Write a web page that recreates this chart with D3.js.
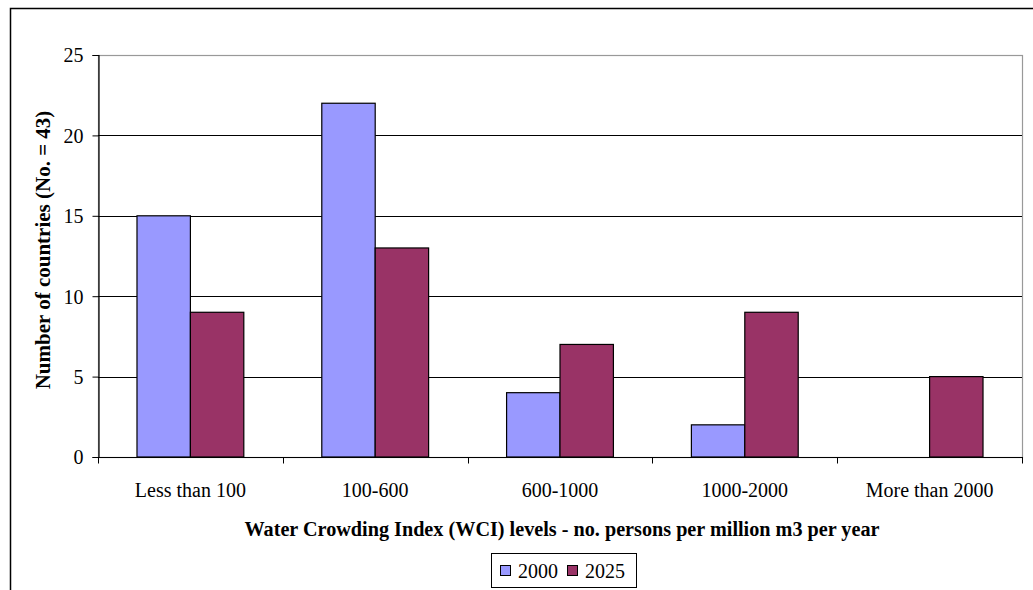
<!DOCTYPE html>
<html>
<head>
<meta charset="utf-8">
<script src="https://cdn.jsdelivr.net/npm/d3@7"></script>
<style>
  html, body { margin: 0; padding: 0; background: #fff; }
  svg text { font-family: "Liberation Serif", "DejaVu Serif", serif; }
</style>
</head>
<body>
<svg id="chart" width="1033" height="590"></svg>
<script>
// Water Crowding Index levels, number of countries per class
const categories = ["Less than 100", "100-600", "600-1000", "1000-2000", "More than 2000"];
const seriesNames = ["2000", "2025"];
const values2000 = [15, 22, 4, 2, 0];
const values2025 = [9, 13, 7, 9, 5];
const yTicks = [0, 5, 10, 15, 20, 25];
const colors = ["#9999FF", "#993366"];

const FONT = "Liberation Serif";
const svg = d3.select("#chart").attr("font-family", FONT);
const W = 1033, H = 590;
const plot = { left: 98, right: 1022, top: 55, bottom: 457 };

// outer chart frame (runs past the right and bottom edges)
svg.append("rect")
  .attr("x", 10.5).attr("y", 8.5)
  .attr("width", W + 20).attr("height", H + 20)
  .attr("fill", "#fff").attr("stroke", "#000").attr("stroke-width", 1.5);

const x = d3.scaleBand().domain(categories).range([plot.left, plot.right]).paddingInner(0).paddingOuter(0);
const y = d3.scaleLinear().domain([0, 25]).range([plot.bottom, plot.top]);

const inner = d3.scaleBand().domain(seriesNames)
  .range([0, x.bandwidth()]).paddingOuter(0.73).paddingInner(0);

// plot area border (grey)
svg.append("rect")
  .attr("x", plot.left + 0.5).attr("y", plot.top + 0.5)
  .attr("width", plot.right - plot.left).attr("height", plot.bottom - plot.top)
  .attr("fill", "none").attr("stroke", "#999").attr("stroke-width", 1.2);

// gridlines
svg.append("g").selectAll("line")
  .data(yTicks.filter(t => t > 0 && t < 25))
  .join("line")
  .attr("x1", plot.left).attr("x2", plot.right)
  .attr("y1", d => Math.round(y(d)) + 0.5).attr("y2", d => Math.round(y(d)) + 0.5)
  .attr("stroke", "#000").attr("stroke-width", 1);

// bars
const series = [values2000, values2025];
const barG = svg.append("g");
categories.forEach((c, i) => {
  series.forEach((vals, s) => {
    const v = vals[i];
    if (v <= 0) return;
    barG.append("rect")
      .attr("x", x(c) + inner(seriesNames[s]))
      .attr("y", y(v))
      .attr("width", inner.bandwidth())
      .attr("height", y(0) - y(v))
      .attr("fill", colors[s])
      .attr("stroke", "#000").attr("stroke-width", 1.2);
  });
});

// y axis
const yAxis = d3.axisLeft(y).tickValues(yTicks).tickSize(6).tickPadding(9);
const yg = svg.append("g").attr("transform", `translate(${plot.left + 0.5},0)`).call(yAxis)
  .attr("font-family", FONT).attr("font-size", 20);
yg.select(".domain").attr("stroke", "#000").attr("stroke-width", 1.2);
yg.selectAll(".tick line").attr("stroke", "#000");
yg.selectAll(".tick text").attr("fill", "#000").attr("dy", "0.34em");

// x axis: ticks at category boundaries
const xg = svg.append("g").attr("transform", `translate(0,${plot.bottom + 0.5})`);
xg.append("line").attr("x1", plot.left).attr("x2", plot.right + 1)
  .attr("stroke", "#000").attr("stroke-width", 1.2);
const bounds = categories.map(c => x(c)).concat([x(categories[categories.length - 1]) + x.bandwidth()]);
xg.selectAll("line.tk").data(bounds).join("line").attr("class", "tk")
  .attr("x1", d => Math.round(d) + 0.5).attr("x2", d => Math.round(d) + 0.5)
  .attr("y1", 0).attr("y2", 6).attr("stroke", "#000");
xg.selectAll("text").data(categories).join("text")
  .attr("x", d => x(d) + x.bandwidth() / 2)
  .attr("y", 39)
  .attr("text-anchor", "middle")
  .attr("font-size", 20)
  .text(d => d);

// axis titles
svg.append("text")
  .attr("x", 562)
  .attr("y", 536)
  .attr("text-anchor", "middle")
  .attr("font-size", 20.2).attr("font-weight", "bold")
  .text("Water Crowding Index (WCI) levels - no. persons per million m3 per year");

svg.append("text")
  .attr("transform", "translate(50,250) rotate(-90)")
  .attr("text-anchor", "middle")
  .attr("font-size", 21).attr("font-weight", "bold")
  .text("Number of countries (No. = 43)");

// legend
const lg = svg.append("g").attr("transform", "translate(491,553)");
lg.append("rect").attr("x", 0.5).attr("y", 0.5).attr("width", 145).attr("height", 34)
  .attr("fill", "#fff").attr("stroke", "#000").attr("stroke-width", 1);
const items = [{ name: "2000", x: 9 }, { name: "2025", x: 76 }];
items.forEach((it, i) => {
  lg.append("rect").attr("x", it.x + 0.5).attr("y", 12.5).attr("width", 10).attr("height", 10)
    .attr("fill", colors[i]).attr("stroke", "#000").attr("stroke-width", 1);
  lg.append("text").attr("x", it.x + 18).attr("y", 24.5)
    .attr("font-size", 20).text(it.name);
});
</script>
</body>
</html>
